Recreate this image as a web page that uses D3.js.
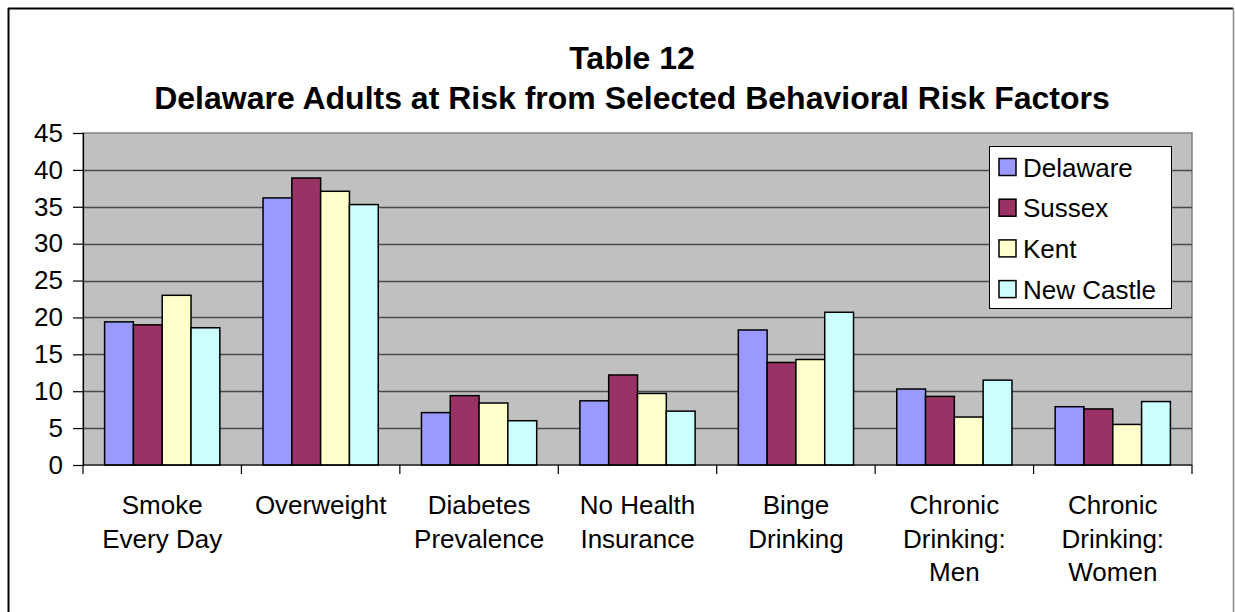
<!DOCTYPE html>
<html>
<head>
<meta charset="utf-8">
<script src="https://cdn.jsdelivr.net/npm/d3@7"></script>
<style>
  html, body { margin: 0; padding: 0; background: #fff; }
  svg { display: block; font-family: "Liberation Sans", Arial, sans-serif; }
</style>
</head>
<body>
<svg id="chart" width="1235" height="612"></svg>
<script>
// Risk factor categories (multi-line labels)
const categories = [
  ["Smoke", "Every Day"],
  ["Overweight"],
  ["Diabetes", "Prevalence"],
  ["No Health", "Insurance"],
  ["Binge", "Drinking"],
  ["Chronic", "Drinking:", "Men"],
  ["Chronic", "Drinking:", "Women"]
];
const seriesNames = ["Delaware", "Sussex", "Kent", "New Castle"];
const seriesColors = ["#9999FF", "#993366", "#FFFFCC", "#CCFFFF"];

// Percent of adults at risk, one array per area
const delaware  = [19.4, 36.2, 7.1, 8.7, 18.3, 10.3, 7.9];
const sussex    = [19.0, 38.9, 9.4, 12.2, 13.9, 9.3, 7.6];
const kent      = [23.0, 37.1, 8.4, 9.7, 14.3, 6.5, 5.5];
const newCastle = [18.6, 35.3, 6.0, 7.3, 20.7, 11.5, 8.6];
const seriesValues = [delaware, sussex, kent, newCastle];

const yTicks = [0, 5, 10, 15, 20, 25, 30, 35, 40, 45];
const titleLines = ["Table 12", "Delaware Adults at Risk from Selected Behavioral Risk Factors"];

const svg = d3.select("#chart");
const plot = { left: 83, top: 133, right: 1192, bottom: 465 };

// Chart frame
svg.append("line").attr("x1", 8).attr("x2", 1233).attr("y1", 8.5).attr("y2", 8.5)
  .attr("stroke", "#000").attr("stroke-width", 2);
svg.append("line").attr("x1", 8.5).attr("x2", 8.5).attr("y1", 8).attr("y2", 612)
  .attr("stroke", "#000").attr("stroke-width", 2);
svg.append("line").attr("x1", 1233.5).attr("x2", 1233.5).attr("y1", 8).attr("y2", 612)
  .attr("stroke", "#888").attr("stroke-width", 1.5);

// Scales
const catKeys = categories.map((c, i) => i);
const x0 = d3.scaleBand().domain(catKeys).range([plot.left, plot.right])
  .paddingInner(1.5 / 5.5).paddingOuter(0.75 / 5.5);
const x1 = d3.scaleBand().domain(d3.range(seriesNames.length)).range([0, x0.bandwidth()]);
const y = d3.scaleLinear().domain([0, 45]).range([plot.bottom, plot.top]);

// Plot background and grid
svg.append("rect")
  .attr("x", plot.left).attr("y", plot.top)
  .attr("width", plot.right - plot.left).attr("height", plot.bottom - plot.top)
  .attr("fill", "#C0C0C0").attr("stroke", "#808080").attr("stroke-width", 1.5);

svg.append("g")
  .selectAll("line")
  .data(yTicks.filter(t => t > 0 && t < 45))
  .join("line")
  .attr("x1", plot.left).attr("x2", plot.right)
  .attr("y1", d => Math.round(y(d)) + 0.5).attr("y2", d => Math.round(y(d)) + 0.5)
  .attr("stroke", "#4a4a4a").attr("stroke-width", 1.3);

// Bars
const groups = svg.append("g").selectAll("g")
  .data(catKeys)
  .join("g")
  .attr("transform", i => `translate(${x0(i)},0)`);

groups.selectAll("rect")
  .data(i => seriesValues.map((vals, s) => ({ s, v: vals[i] })))
  .join("rect")
  .attr("x", d => x1(d.s))
  .attr("width", x1.bandwidth())
  .attr("y", d => y(d.v))
  .attr("height", d => y(0) - y(d.v))
  .attr("fill", d => seriesColors[d.s])
  .attr("stroke", "#000")
  .attr("stroke-width", 1.5);

// Y axis
const yAxis = d3.axisLeft(y).tickValues(yTicks).tickSize(10).tickPadding(10).tickFormat(d3.format("d"));
const yg = svg.append("g").attr("transform", `translate(${plot.left},0)`).call(yAxis);
yg.select(".domain").attr("stroke", "#000").attr("stroke-width", 1.2);
yg.selectAll(".tick line").attr("stroke", "#000").attr("stroke-width", 1.2);
yg.selectAll(".tick text")
  .attr("font-size", 26).attr("fill", "#000")
  .attr("font-family", "Liberation Sans, Arial, sans-serif");

// X axis: baseline and category divider ticks
svg.append("line")
  .attr("x1", plot.left).attr("x2", plot.right)
  .attr("y1", plot.bottom).attr("y2", plot.bottom)
  .attr("stroke", "#000").attr("stroke-width", 1.2);
const step = x0.step();
svg.append("g").selectAll("line")
  .data(d3.range(categories.length + 1))
  .join("line")
  .attr("x1", i => plot.left + i * step).attr("x2", i => plot.left + i * step)
  .attr("y1", plot.bottom).attr("y2", plot.bottom + 9)
  .attr("stroke", "#000").attr("stroke-width", 1.2);

// Category labels
const labelG = svg.append("g").selectAll("g")
  .data(catKeys)
  .join("g")
  .attr("transform", i => `translate(${x0(i) + x0.bandwidth() / 2},0)`);
labelG.selectAll("text")
  .data(i => categories[i])
  .join("text")
  .attr("x", 0)
  .attr("y", (d, k) => 514 + k * 33.5)
  .attr("text-anchor", "middle")
  .attr("font-size", 26)
  .attr("fill", "#000")
  .text(d => d);

// Title
svg.append("text")
  .attr("x", 632).attr("y", 69)
  .attr("text-anchor", "middle")
  .attr("font-size", 32).attr("font-weight", "bold")
  .text(titleLines[0]);
svg.append("text")
  .attr("x", 632).attr("y", 109)
  .attr("text-anchor", "middle")
  .attr("font-size", 32).attr("font-weight", "bold")
  .text(titleLines[1]);

// Legend
const legend = svg.append("g");
legend.append("rect")
  .attr("x", 989.5).attr("y", 146.5).attr("width", 182).attr("height", 162)
  .attr("fill", "#fff").attr("stroke", "#000").attr("stroke-width", 1);
const rows = legend.selectAll("g.row")
  .data(seriesNames)
  .join("g")
  .attr("class", "row")
  .attr("transform", (d, i) => `translate(0,${167 + i * 40.7})`);
rows.append("rect")
  .attr("x", 999).attr("y", -8.5).attr("width", 17).attr("height", 17)
  .attr("fill", (d, i) => seriesColors[i])
  .attr("stroke", "#000").attr("stroke-width", 1.5);
rows.append("text")
  .attr("x", 1023).attr("y", 9.5)
  .attr("font-size", 26).attr("fill", "#000")
  .text(d => d);
</script>
</body>
</html>
